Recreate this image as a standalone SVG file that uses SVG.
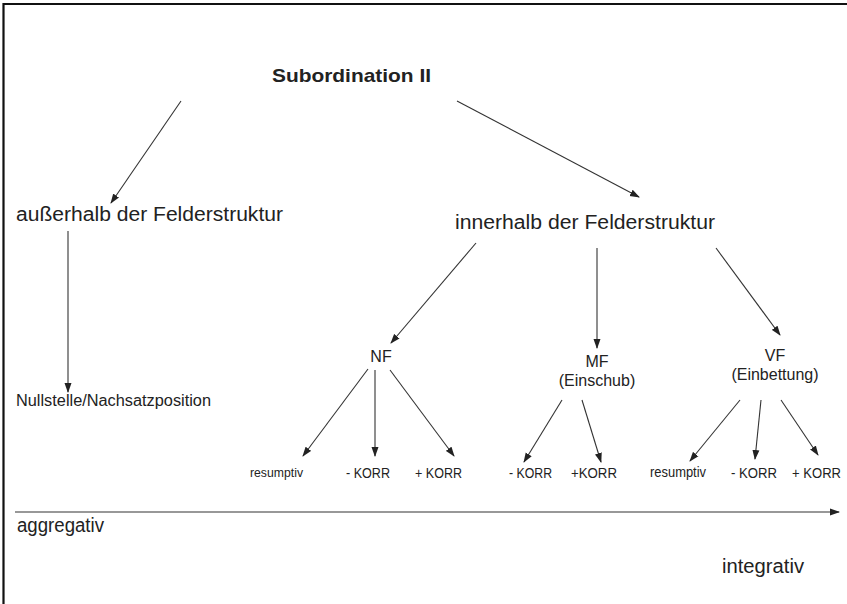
<svg xmlns="http://www.w3.org/2000/svg" width="847" height="604" viewBox="0 0 847 604">
  <style>
    text { font-family: "Liberation Sans", Arial, sans-serif; fill: #222; }
    .title { font-size: 19px; font-weight: bold; }
    .big { font-size: 20px; }
    .mid { font-size: 16px; }
    .small { font-size: 14px; }
    .tiny { font-size: 13px; }
    .edge { stroke: #333; stroke-width: 1.1; fill: none; marker-end: url(#arrow); }
  </style>
  <defs>
    <marker id="arrow" markerUnits="userSpaceOnUse" markerWidth="10" markerHeight="8" viewBox="0 0 10 8" refX="9" refY="4" orient="auto">
      <path d="M0,0.5 L10,4 L0,7.5 Z" fill="#222"/>
    </marker>
  </defs>

  <rect width="847" height="604" fill="#fff"/>
  <!-- frame on the top and left edges -->
  <path d="M3.5,604 V4 H847" fill="none" stroke="#111" stroke-width="2.2"/>

  <g id="connectors">
    <line class="edge" x1="181" y1="101" x2="111" y2="203"/>
    <line class="edge" x1="457" y1="101" x2="639" y2="197"/>
    <line class="edge" x1="68" y1="231" x2="68" y2="392"/>
    <line class="edge" x1="476" y1="243" x2="391" y2="343"/>
    <line class="edge" x1="597" y1="248" x2="597" y2="348"/>
    <line class="edge" x1="716" y1="248" x2="780" y2="335"/>
    <line class="edge" x1="368" y1="369" x2="303" y2="456"/>
    <line class="edge" x1="375" y1="370" x2="375" y2="456"/>
    <line class="edge" x1="390" y1="370" x2="454" y2="456"/>
    <line class="edge" x1="562" y1="400" x2="524" y2="462"/>
    <line class="edge" x1="582" y1="400" x2="601" y2="462"/>
    <line class="edge" x1="740" y1="400" x2="690" y2="461"/>
    <line class="edge" x1="761" y1="400" x2="755" y2="459"/>
    <line class="edge" x1="781" y1="400" x2="818" y2="455"/>
    <line class="edge" x1="15" y1="512" x2="839" y2="512"/>
  </g>

  <g id="root"><text class="title" x="272" y="82" textLength="159" lengthAdjust="spacingAndGlyphs">Subordination II</text></g>
  <g id="ausserhalb"><text class="big" x="16" y="221" textLength="267" lengthAdjust="spacingAndGlyphs">außerhalb der Felderstruktur</text></g>
  <g id="innerhalb"><text class="big" x="455" y="229" textLength="260" lengthAdjust="spacingAndGlyphs">innerhalb der Felderstruktur</text></g>
  <g id="nullstelle"><text class="mid" x="16" y="406" textLength="195" lengthAdjust="spacingAndGlyphs">Nullstelle/Nachsatzposition</text></g>

  <g id="nf"><text class="mid" x="381" y="362" text-anchor="middle">NF</text></g>
  <g id="mf">
    <text class="mid" x="597" y="367" text-anchor="middle">MF</text>
    <text class="mid" x="597" y="386" text-anchor="middle">(Einschub)</text>
  </g>
  <g id="vf">
    <text class="mid" x="775" y="361" text-anchor="middle">VF</text>
    <text class="mid" x="775" y="380" text-anchor="middle">(Einbettung)</text>
  </g>

  <g id="nf-resumptiv"><text class="tiny" x="250" y="477" textLength="53" lengthAdjust="spacingAndGlyphs">resumptiv</text></g>
  <g id="nf-minus"><text class="small" x="346" y="478" textLength="44" lengthAdjust="spacingAndGlyphs">- KORR</text></g>
  <g id="nf-plus"><text class="small" x="415" y="478" textLength="47" lengthAdjust="spacingAndGlyphs">+ KORR</text></g>
  <g id="mf-minus"><text class="small" x="509" y="478" textLength="43" lengthAdjust="spacingAndGlyphs">- KORR</text></g>
  <g id="mf-plus"><text class="small" x="571" y="478" textLength="46" lengthAdjust="spacingAndGlyphs">+KORR</text></g>
  <g id="vf-resumptiv"><text class="small" x="650" y="477" textLength="56" lengthAdjust="spacingAndGlyphs">resumptiv</text></g>
  <g id="vf-minus"><text class="small" x="731" y="478" textLength="46" lengthAdjust="spacingAndGlyphs">- KORR</text></g>
  <g id="vf-plus"><text class="small" x="792" y="478" textLength="49" lengthAdjust="spacingAndGlyphs">+ KORR</text></g>

  <g id="aggregativ"><text class="big" x="17" y="532" textLength="87" lengthAdjust="spacingAndGlyphs">aggregativ</text></g>
  <g id="integrativ"><text class="big" x="722" y="573" textLength="82" lengthAdjust="spacingAndGlyphs">integrativ</text></g>
</svg>
